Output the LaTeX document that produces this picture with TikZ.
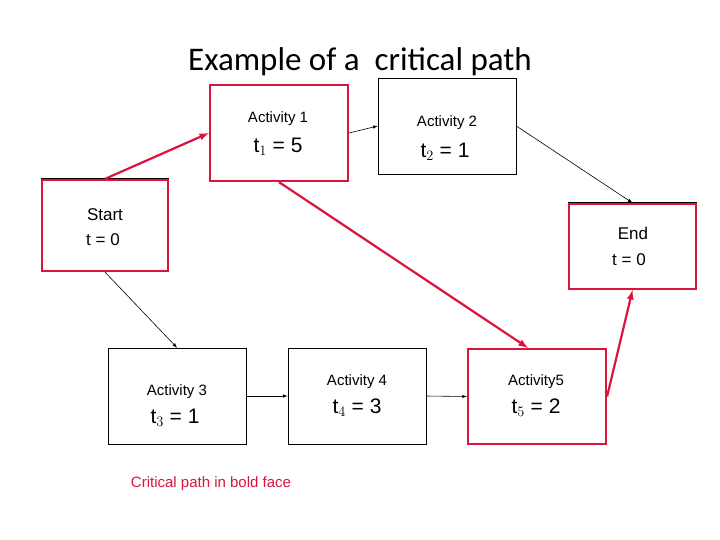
\documentclass[tikz,border=0pt]{standalone}
\usepackage{fontspec}
\setmainfont{Liberation Sans}
\newfontfamily\titlefont{Carlito}
\definecolor{cred}{RGB}{220,20,60}
\begin{document}
\begin{tikzpicture}[x=1pt,y=-1pt,
  box/.style={draw=black,line width=0.6pt},
  rbox/.style={draw=cred,line width=2.2pt},
  small/.style={font=\fontsize{15}{17}\selectfont,inner sep=0pt},
  big/.style={font=\fontsize{21}{23}\selectfont,inner sep=0pt},
  arr/.style={-latex,line width=0.6pt},
  rarr/.style={-latex,draw=cred,line width=2.2pt}]
\useasboundingbox (0,0) rectangle (720,540);
\node[font=\titlefont\fontsize{33}{36}\selectfont] (title) at (360,62) {Example of a\ \ critical path};
% boxes
\node[rbox,minimum width=138,minimum height=96] (a1) at (279,133) {};
\node[box,minimum width=138,minimum height=96] (a2) at (447,126) {};
\node[rbox,minimum width=126,minimum height=91] (st) at (105,225.5) {};
\node[rbox,minimum width=127,minimum height=85] (en) at (632.5,246.5) {};
\node[box,minimum width=138,minimum height=96] (a3) at (177,396) {};
\node[box,minimum width=138,minimum height=96] (a4) at (357,396) {};
\node[rbox,minimum width=138,minimum height=95] (a5) at (537,396.5) {};
\draw[line width=1.2pt] (st.north west) -- (st.north east);
\draw[line width=1.2pt] (en.north west) -- (en.north east);
% texts
\node[small] (a1l) at (278,119) {Activity 1};
\node[big] (a1t) at (278,147) {t$_1$ = 5};
\node[small] (a2l) at (447,123) {Activity 2};
\node[big] (a2t) at (445,152) {t$_2$ = 1};
\node[small,font=\fontsize{17}{19}\selectfont] (stl) at (105,215) {Start};
\node[small,font=\fontsize{17}{19}\selectfont] (stt) at (103,240) {t = 0};
\node[small,font=\fontsize{17}{19}\selectfont] (enl) at (633,233) {End};
\node[small,font=\fontsize{17}{19}\selectfont] (ent) at (629,260) {t = 0};
\node[small] (a3l) at (177,392) {Activity 3};
\node[big] (a3t) at (175,418) {t$_3$ = 1};
\node[small] (a4l) at (357,382) {Activity 4};
\node[big] (a4t) at (357,408) {t$_4$ = 3};
\node[small] (a5l) at (536,382) {Activity5};
\node[big] (a5t) at (536,408) {t$_5$ = 2};
\node[small,text=cred] (cap) at (211,484) {Critical path in bold face};
% connectors
\draw[rarr] (st.north) -- (a1.west);
\draw[arr] (a1.east) -- (a2.west);
\draw[arr] (a2.east) -- (en.north);
\draw[arr] (st.south) -- (a3.north);
\draw[arr] (a3.east) -- (a4.west);
\draw[arr] (a4.east) -- (a5.west);
\draw[rarr] (a1.south) -- ([xshift=-9]a5.north);
\draw[rarr] (a5.east) -- (en.south);
\end{tikzpicture}
\end{document}
